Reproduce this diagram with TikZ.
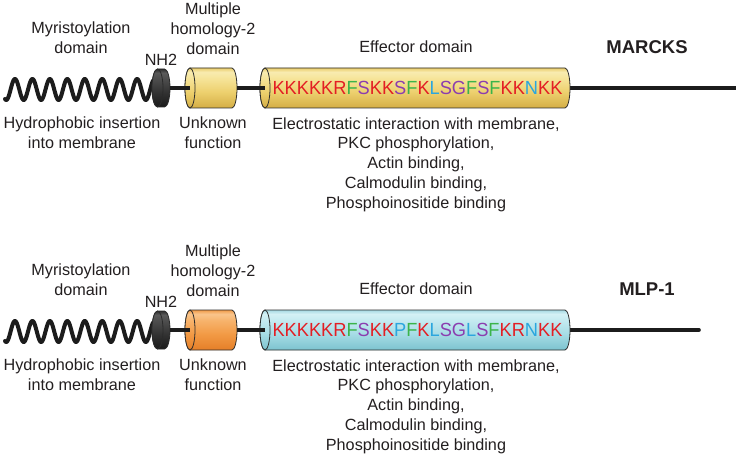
\documentclass[tikz,border=0pt]{standalone}
\usepackage{fontspec}
\setmainfont{Liberation Sans}
\newfontfamily\seqfont[FakeStretch=0.96]{Liberation Sans}
\definecolor{txt}{HTML}{231F20}
\definecolor{outl}{HTML}{2B2B2B}
\definecolor{wirec}{HTML}{1C1C1C}
\definecolor{sr}{HTML}{E31E24}
\definecolor{sg}{HTML}{3BB44A}
\definecolor{sp}{HTML}{8B3DAF}
\definecolor{sb}{HTML}{2BA6DE}
\definecolor{ya}{HTML}{D4AE45}\definecolor{yb}{HTML}{EDD06E}\definecolor{yc}{HTML}{F6E499}\definecolor{yd}{HTML}{F8EBB0}\definecolor{ye}{HTML}{EACD6C}
\definecolor{ca}{HTML}{7CC3CF}\definecolor{cb}{HTML}{A6DCE5}\definecolor{cc}{HTML}{C4EAF0}\definecolor{cd}{HTML}{D4F1F5}\definecolor{ce}{HTML}{A5D9E2}
\definecolor{oa}{HTML}{E57F28}\definecolor{ob}{HTML}{F29A45}\definecolor{oc}{HTML}{F7B36C}\definecolor{od}{HTML}{F9C58C}\definecolor{oe}{HTML}{F09A48}
\definecolor{da}{HTML}{1A1A1A}\definecolor{db}{HTML}{333333}\definecolor{dc}{HTML}{4D4D4D}\definecolor{dd}{HTML}{5A5A5A}\definecolor{de}{HTML}{2E2E2E}
\pgfdeclareverticalshading{yelshade}{100bp}{color(0bp)=(ya); color(25bp)=(ya); color(45bp)=(yb); color(62bp)=(yc); color(70bp)=(yd); color(75bp)=(ye); color(100bp)=(ye)}
\pgfdeclareverticalshading{cyanshade}{100bp}{color(0bp)=(ca); color(25bp)=(ca); color(45bp)=(cb); color(62bp)=(cc); color(70bp)=(cd); color(75bp)=(ce); color(100bp)=(ce)}
\pgfdeclareverticalshading{orshade}{100bp}{color(0bp)=(oa); color(25bp)=(oa); color(45bp)=(ob); color(62bp)=(oc); color(70bp)=(od); color(75bp)=(oe); color(100bp)=(oe)}
\pgfdeclareverticalshading{darkshade}{100bp}{color(0bp)=(da); color(25bp)=(da); color(45bp)=(db); color(62bp)=(dc); color(70bp)=(dd); color(75bp)=(de); color(100bp)=(de)}
\newcommand\cylpath[4]{%
  \path[shade, shading=#2, draw=outl, line width=0.8pt]
    ([xshift=#3]#1.north west) -- ([xshift=-#3]#1.north east)
    arc[start angle=90, end angle=-90, x radius=#3, y radius=#4]
    -- ([xshift=#3]#1.south west)
    arc[start angle=270, end angle=90, x radius=#3, y radius=#4] -- cycle;
  \path[shade, shading=#2, draw=outl, line width=0.8pt]
    ([xshift=#3]#1.west) ellipse[x radius=#3, y radius=#4];
}
\newcommand\proteinrow[7]{%
\begin{scope}[yshift=-#2pt]
  \node[box, minimum width=18pt, minimum height=38pt] (nh2#1) at (161,-88) {};
  \node[box, minimum width=52pt, minimum height=40pt] (mh2#1) at (211,-88) {};
  \node[box, minimum width=310pt, minimum height=40pt] (eff#1) at (415,-88) {};
  \coordinate (end#1) at (#7,-88);
  \draw[wire, line width=4pt, line cap=round, line join=round] plot[domain=5:153, samples=300] (\x, {-(89.5 - 10.5*sin((\x-10.6)*20.63))});
  \draw[wire, line cap=round] (eff#1.east) -- (end#1);
  \cylpath{nh2#1}{darkshade}{5.5pt}{19pt}
  \cylpath{mh2#1}{#3}{5pt}{20pt}
  \cylpath{eff#1}{#4}{5pt}{20pt}
  \draw[wire] (nh2#1.east) -- ([xshift=5pt]mh2#1.west);
  \draw[wire] (mh2#1.east) -- ([xshift=5pt]eff#1.west);
  \node[seq] (seq#1) at (417.5,-88) {#5};
  \node[lbl] (myr#1) at (81,-38) {Myristoylation\\domain};
  \node[lbl] (mhl#1) at (213,-29) {Multiple\\homology-2\\domain};
  \node[lbl] (nhl#1) at (161,-60) {NH2};
  \node[lbl] (efl#1) at (416,-47) {Effector domain};
  \node[ttl] (name#1) at (647,-47) {#6};
  \node[lbl] (hyd#1) at (82,-133) {Hydrophobic insertion\\into membrane};
  \node[lbl] (unk#1) at (213,-133) {Unknown\\function};
  \node[lbl] (desc#1) at (416,-164.5) {Electrostatic interaction with membrane,\\PKC phosphorylation,\\Actin binding,\\Calmodulin binding,\\Phosphoinositide binding};
\end{scope}}
\begin{document}
\begin{tikzpicture}[x=1pt,y=1pt,
  lbl/.style={font=\fontsize{16.2}{19.8}\selectfont, text=txt, align=center, inner sep=0pt},
  ttl/.style={font=\fontsize{18.5}{20}\selectfont\bfseries, text=txt, inner sep=0pt},
  seq/.style={font=\seqfont\fontsize{19}{20}\selectfont, inner sep=0pt},
  wire/.style={line width=3.6pt, draw=wirec},
  box/.style={inner sep=0pt, outer sep=0pt}]
\useasboundingbox (0,0) rectangle (736,-454);
\fill[white] (0,0) rectangle (736,-454);
\proteinrow{a}{0}{yelshade}{yelshade}{{\color{sr}KKKKKR}{\color{sg}F}{\color{sp}S}{\color{sr}KK}{\color{sp}S}{\color{sg}F}{\color{sr}K}{\color{sb}L}{\color{sp}SG}{\color{sg}F}{\color{sp}S}{\color{sg}F}{\color{sr}KK}{\color{sb}N}{\color{sr}KK}}{MARCKS}{738}
\proteinrow{b}{242}{orshade}{cyanshade}{{\color{sr}KKKKKR}{\color{sg}F}{\color{sp}S}{\color{sr}KK}{\color{sb}P}{\color{sg}F}{\color{sr}K}{\color{sb}L}{\color{sp}SG}{\color{sb}L}{\color{sp}S}{\color{sg}F}{\color{sr}KR}{\color{sb}N}{\color{sr}KK}}{MLP-1}{699}
\end{tikzpicture}
\end{document}
